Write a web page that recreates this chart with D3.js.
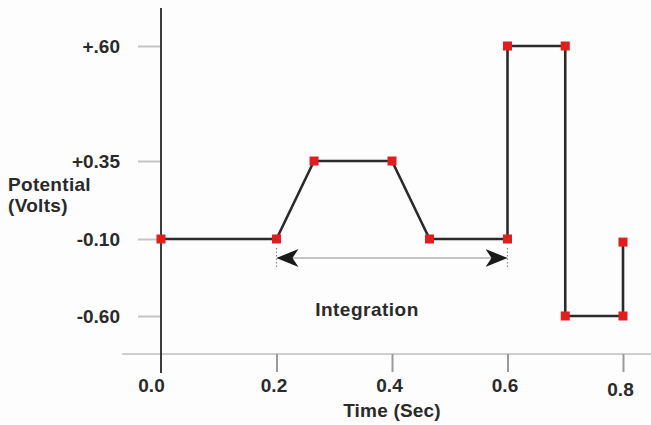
<!DOCTYPE html>
<html>
<head>
<meta charset="utf-8">
<script src="https://cdn.jsdelivr.net/npm/d3@7"></script>
<style>
  html, body { margin: 0; padding: 0; background: #fdfdfd; }
  svg { display: block; }
  text { font-family: "Liberation Sans", Arial, sans-serif; font-weight: bold; fill: #2a2a2a; }
</style>
</head>
<body>
<script>
// ---- data ----
const timeValues = [0, 0.2, 0.265, 0.4, 0.465, 0.6, 0.6, 0.7, 0.7, 0.8, 0.8];
const voltValues = [-0.10, -0.10, 0.35, 0.35, -0.10, -0.10, 0.60, 0.60, -0.60, -0.60, -0.12];
const xTickValues = [0, 0.2, 0.4, 0.6, 0.8];
const xTickLabels = ["0.0", "0.2", "0.4", "0.6", "0.8"];
const yTickValues = [0.60, 0.35, -0.10, -0.60];
const yTickLabels = ["+.60", "+0.35", "-0.10", "-0.60"];
const integrationRange = [0.2, 0.6];
const yTitleLines = ["Potential", "(Volts)"];
const xTitle = "Time (Sec)";
const integrationLabel = "Integration";

const W = 651, H = 425;
const svg = d3.select("body").append("svg").attr("width", W).attr("height", H);

const x = d3.scaleLinear().domain([0, 0.8]).range([161, 623]);
// the reference's potential axis is not evenly spaced: piecewise-linear scale through the tick values
const y = d3.scaleLinear().domain([-0.60, -0.10, 0.35, 0.60]).range([316, 239, 161, 46]);

const defs = svg.append("defs");
defs.append("marker").attr("id", "arrow")
  .attr("viewBox", "0 0 22 20").attr("refX", 21).attr("refY", 10)
  .attr("markerWidth", 22).attr("markerHeight", 20).attr("markerUnits", "userSpaceOnUse")
  .attr("orient", "auto-start-reverse")
  .append("path").attr("d", "M0,1 L22,10 L0,19 L6,10 Z").attr("fill", "#1a1a1a");

// x axis baseline (gray)
svg.append("line").attr("x1", 122).attr("x2", W).attr("y1", 354).attr("y2", 354)
  .attr("stroke", "#cfcfcf").attr("stroke-width", 2);

// x axis ticks + labels
const xAxis = d3.axisBottom(x).tickValues(xTickValues)
  .tickFormat((d, i) => xTickLabels[i]).tickSize(18).tickPadding(7);
const gx = svg.append("g").attr("transform", "translate(0,354)").call(xAxis);
gx.select(".domain").remove();
gx.selectAll(".tick line").attr("stroke", "#9a9a9a").attr("stroke-width", 2)
  .attr("display", d => d === 0 ? "none" : null);
gx.selectAll(".tick text").attr("font-size", 19).attr("font-family", null).attr("fill", "#2a2a2a")
  .attr("dx", d => d === 0 ? -10 : -3)
  .attr("y", d => d === 0.8 ? 29 : 25);

// y axis ticks + labels
const yAxis = d3.axisLeft(y).tickValues(yTickValues)
  .tickFormat((d, i) => yTickLabels[i]).tickSize(23).tickPadding(18);
const gy = svg.append("g").attr("transform", "translate(161,0)").call(yAxis);
gy.select(".domain").remove();
gy.selectAll(".tick line").attr("stroke", "#c4c4c4").attr("stroke-width", 2);
gy.selectAll(".tick text").attr("font-size", 19).attr("font-family", null).attr("fill", "#2a2a2a");

// main vertical axis line
svg.append("line").attr("x1", 161).attr("x2", 161).attr("y1", 8).attr("y2", 373)
  .attr("stroke", "#3c3c3c").attr("stroke-width", 2);

// axis titles
const yt = svg.append("text").attr("x", 8).attr("y", 191).attr("font-size", 19)
  .attr("letter-spacing", 0.3);
yTitleLines.forEach((t, i) => yt.append("tspan").attr("x", 8).attr("dy", i ? 21 : 0).text(t));
svg.append("text").attr("x", 392).attr("y", 417).attr("text-anchor", "middle")
  .attr("font-size", 19).attr("letter-spacing", 0.2).text(xTitle);

// integration bracket
const ay = 258;
integrationRange.forEach(t => {
  svg.append("line").attr("x1", x(t)).attr("x2", x(t)).attr("y1", ay - 10).attr("y2", ay + 10)
    .attr("stroke", "#8a8a8a").attr("stroke-width", 1.2).attr("stroke-dasharray", "1.5,2");
});
svg.append("line").attr("x1", x(integrationRange[0]) + 1).attr("x2", x(integrationRange[1]) - 1)
  .attr("y1", ay).attr("y2", ay)
  .attr("stroke", "#b0b0b0").attr("stroke-width", 1.5)
  .attr("marker-start", "url(#arrow)").attr("marker-end", "url(#arrow)");
svg.append("text").attr("x", 367).attr("y", 316).attr("text-anchor", "middle")
  .attr("font-size", 19).attr("letter-spacing", 0.5).text(integrationLabel);

// waveform
const pts = timeValues.map((t, i) => [t, voltValues[i]]);
const line = d3.line().x(d => x(d[0])).y(d => y(d[1]));
svg.append("path").datum(pts).attr("d", line).attr("fill", "none")
  .attr("stroke", "#2b2b2b").attr("stroke-width", 2.6).attr("stroke-linejoin", "miter");

// red markers
const s = 9;
svg.selectAll("rect.pt").data(pts).join("rect").attr("class", "pt")
  .attr("x", d => x(d[0]) - s / 2).attr("y", d => y(d[1]) - s / 2)
  .attr("width", s).attr("height", s).attr("fill", "#e11d1d");
</script>
</body>
</html>
